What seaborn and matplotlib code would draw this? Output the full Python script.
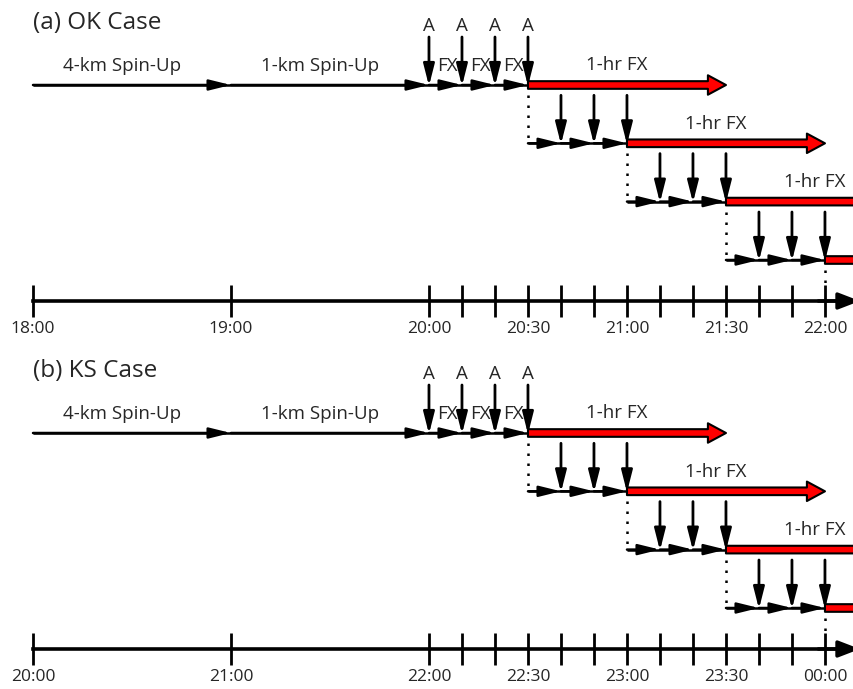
import matplotlib
matplotlib.use('Agg')
import matplotlib.pyplot as plt
import seaborn as sns

# ---- data -------------------------------------------------------------
panel_titles = ['(a) OK Case', '(b) KS Case']
panel_tick_labels = [
    ['18:00', '19:00', '20:00', '20:30', '21:00', '21:30', '22:00'],
    ['20:00', '21:00', '22:00', '22:30', '23:00', '23:30', '00:00'],
]
# minutes after the start of each timeline
label_minutes = [0, 60, 120, 150, 180, 210, 240]
tick_minutes = [0, 60, 120, 130, 140, 150, 160, 170, 180, 190, 200, 210, 220, 230, 240]
spinup_names = ['4-km Spin-Up', '1-km Spin-Up']
spinup_edges = [0, 60, 120]
# analysis times for each forecast row (row 0 is the initial DA window)
row_da = [[120, 130, 140, 150],
          [160, 170, 180],
          [190, 200, 210],
          [220, 230, 240]]
fx_launch = [150, 180, 210, 240]
fx_length = 60
fx_label = '1-hr FX'
da_label = 'A'
short_fx_label = 'FX'

# ---- layout (pixels from top of each panel) ---------------------------
ROW_Y = [85, 143.3, 201.6, 260]
AXIS_Y = 301
PANEL_H = 344.5
PANEL_TOP = [0, -3.5]
DROP = 48

sns.set_theme(style='white')
plt.rcParams['font.family'] = ['Open Sans', 'DejaVu Sans']


def arrow(ax, x0, y0, x1, y1, style, lw=1.5, **kw):
    props = dict(arrowstyle=style, lw=lw, shrinkA=0, shrinkB=0,
                 mutation_scale=10)
    if 'fc' not in kw:
        props['color'] = 'black'
    props.update(kw)
    ax.annotate('', xy=(x1, y1), xytext=(x0, y0), arrowprops=props,
                annotation_clip=False)


RIGHT = '-|>,head_length=1.3,head_width=0.32'
DOWN = '-|>,head_length=1.3,head_width=0.33'
RED = 'simple,head_length=1.3,head_width=1.4,tail_width=0.55'


def draw_panel(ax, title, labels, top):
    ax.set_xlim(-10, 248.8)
    ax.set_ylim(top + PANEL_H, top)
    ax.set_yticks([])
    for s in ['top', 'left', 'right']:
        ax.spines[s].set_visible(False)
    sp = ax.spines['bottom']
    sp.set_position(('data', AXIS_Y))
    sp.set_bounds(0, 245)
    sp.set_linewidth(2.6)
    sp.set_color('black')
    ax.set_xticks(tick_minutes)
    ax.set_xticklabels([labels[label_minutes.index(t)] if t in label_minutes else ''
                        for t in tick_minutes])
    ax.tick_params(axis='x', direction='inout', length=23, width=2,
                   color='black', labelsize=12.5, pad=3, bottom=True)
    # axis arrow head
    arrow(ax, 238, AXIS_Y, 250.6, AXIS_Y, '-|>,head_length=1.3,head_width=0.5', lw=2.5)

    ax.text(0, 23, title, fontsize=17.5, ha='left', va='center')

    # spin-up segments
    y0 = ROW_Y[0]
    for i, name in enumerate(spinup_names):
        a, b = spinup_edges[i], spinup_edges[i + 1]
        ax.text((a + b) / 2 - 3, 66, name, fontsize=13.5, ha='center', va='center')

    # forecast rows
    for r, da in enumerate(row_da):
        y = ROW_Y[r]
        start = spinup_edges[0] if r == 0 else fx_launch[r - 1]
        stops = (spinup_edges[1:-1] if r == 0 else []) + da
        ax.plot([start, stops[-1]], [y, y], color='black', lw=1.8,
                solid_capstyle='butt')
        prev = start
        for t in stops:
            if t > prev:
                arrow(ax, prev, y, t, y, RIGHT, lw=1.8)
            prev = t
        # red forecast arrow
        arrow(ax, fx_launch[r], y, fx_launch[r] + fx_length, y, RED,
              fc='#ff0000', ec='black', lw=1.5)
        # analysis arrows
        for t in da:
            arrow(ax, t, y - DROP, t, y + 1, DOWN, lw=2)
        if r == 0:
            for t in da:
                ax.text(t, 26, da_label, fontsize=13.5, ha='center', va='center')
            for a, b in zip(da[:-1], da[1:]):
                ax.text((a + b) / 2 + 0.6, 66, short_fx_label, fontsize=13.5,
                        ha='center', va='center')
        if r < 3:
            ax.text(fx_launch[r] + 27, y - 19.5, fx_label, fontsize=13.5,
                    ha='center', va='center')
        # dotted connector from previous launch
        if r > 0:
            x = fx_launch[r - 1]
            ax.plot([x, x], [ROW_Y[r - 1] + 10, y - 5], color='black', lw=1.8,
                    linestyle=(0, (1, 3)))
    ax.plot([fx_launch[-1]] * 2, [ROW_Y[-1] + 10, AXIS_Y - 12], color='black',
            lw=1.8, linestyle=(0, (1, 3)))


fig = plt.figure(figsize=(8.54, 6.89), dpi=100)
fig.patch.set_facecolor('white')
ax_a = fig.add_axes([0, 0.5, 1, 0.5])
ax_b = fig.add_axes([0, 0, 1, 0.5])
for ax, title, labels, top in zip([ax_a, ax_b], panel_titles, panel_tick_labels, PANEL_TOP):
    ax.set_facecolor('none')
    draw_panel(ax, title, labels, top)

fig.savefig('out.png', dpi=100)
